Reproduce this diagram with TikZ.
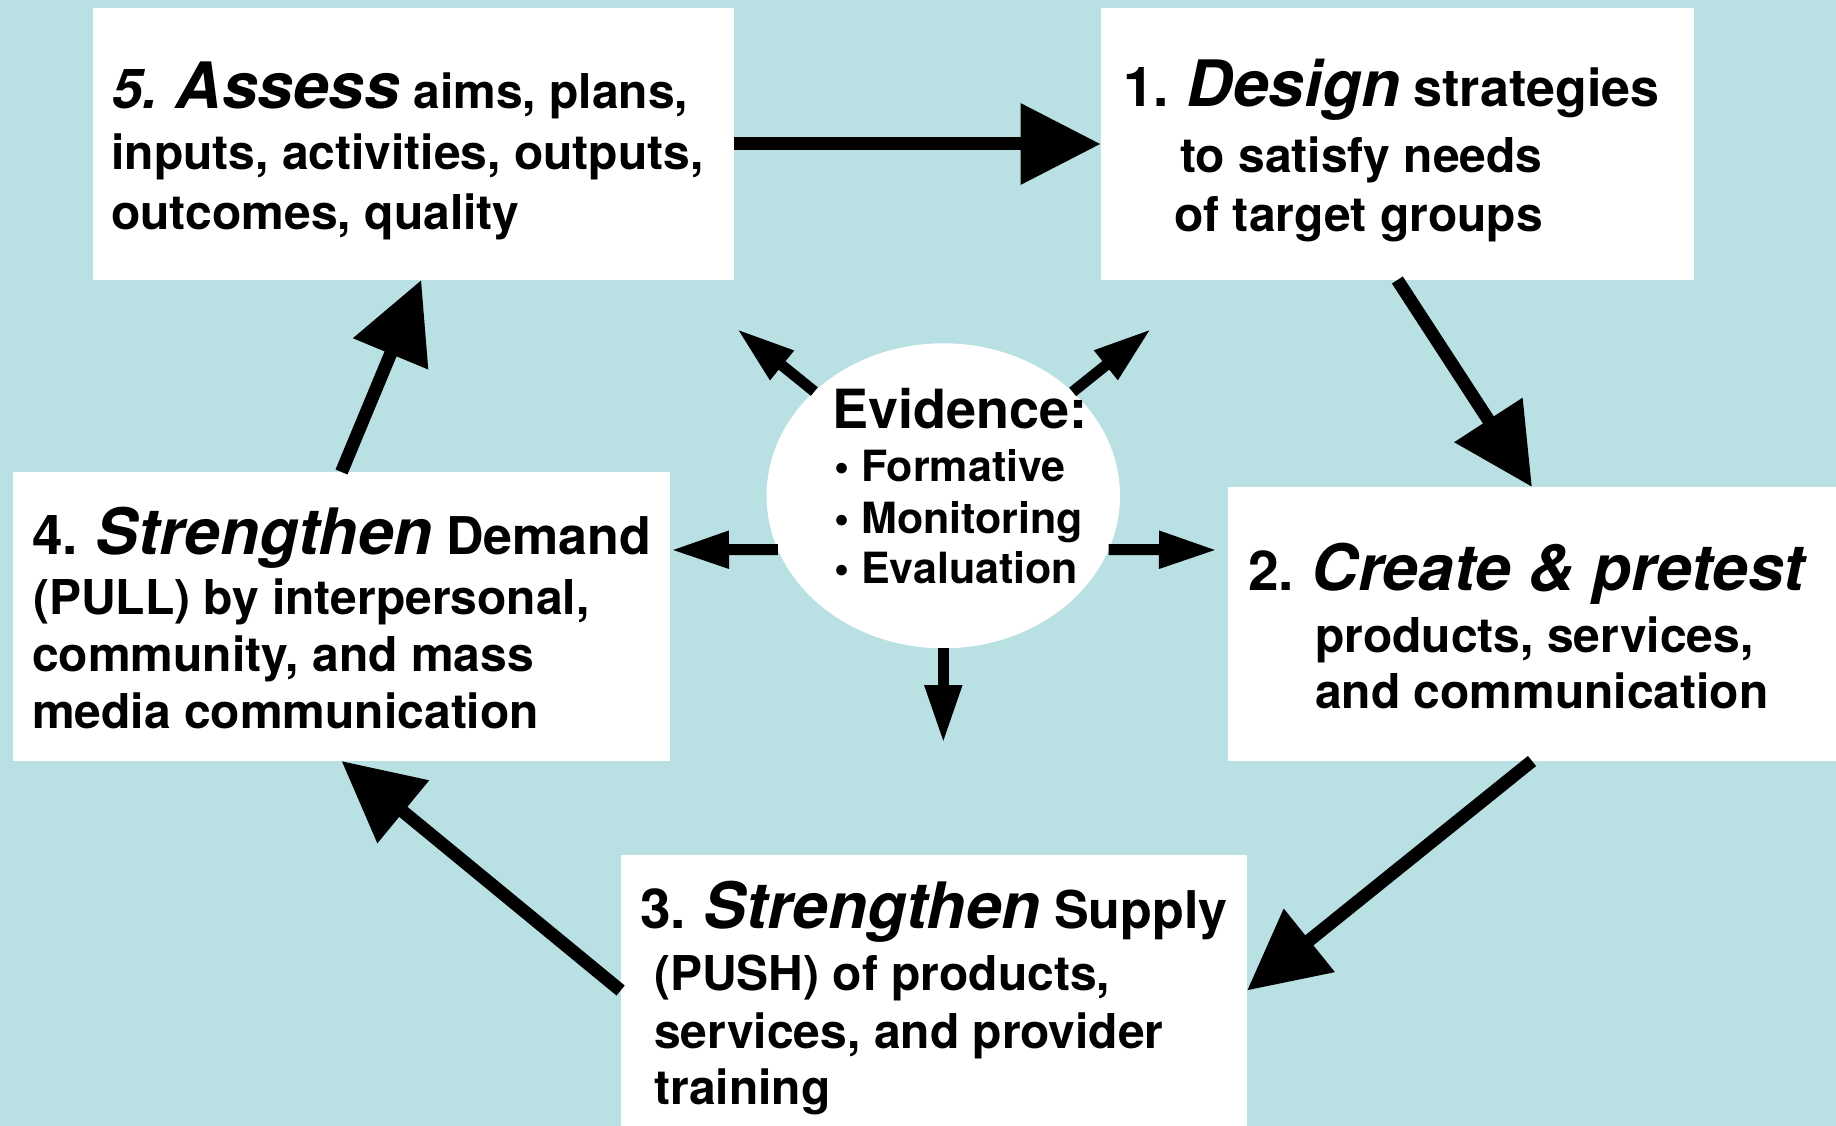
\documentclass[tikz,border=0pt]{standalone}
\usepackage{fontspec}
\setmainfont{TeX Gyre Heros}
\usetikzlibrary{arrows.meta,shapes.geometric}

\definecolor{bgblue}{RGB}{185,224,227}
\newcommand\numsz{\fontsize{55}{60}\selectfont}
\newcommand\itsz{\fontsize{64}{70}\selectfont\itshape}
\newcommand\hdsz{\fontsize{52}{60}\selectfont}

\begin{document}
\begin{tikzpicture}[x=1pt,y=-1pt,
	box/.style={fill=white,inner sep=0,outer sep=0,anchor=north west},
	txt/.style={anchor=base west,inner sep=0,font=\bfseries\fontsize{48}{58}\selectfont},
	bullet/.style={anchor=base west,inner sep=0,font=\bfseries\fontsize{43}{50}\selectfont},
	bigarrow/.style={line width=13pt,-{Triangle[length=80pt,width=78pt]}},
	smallarrow/.style={line width=11pt,-{Triangle[length=58pt,width=35pt]}}]
	% background
	\fill[bgblue] (0,0) rectangle (1836,1126);
	\useasboundingbox (0,0) rectangle (1836,1126);
	
	% BOXES
	\node[box,minimum width=641.5pt,minimum height=272pt] (n5) at (92.5,8) {}; % assess
	\node[box,minimum width=593.3pt,minimum height=272pt] (n1) at (1100.7,8) {}; % design
	\node[box,minimum width=608pt,minimum height=274pt] (n2) at (1228,487) {}; % create
	\node[box,minimum width=626.4pt,minimum height=271pt] (n3) at (620.6,855) {}; % supply
	\node[box,minimum width=657pt,minimum height=289pt] (n4) at (13,472) {}; % demand
	\node[ellipse,fill=white,inner sep=0,outer sep=0,minimum width=353.4pt,
		minimum height=305pt] (ev) at (943.3,495.8) {}; % evidence
	
	% TEXT
	\node[txt] (t51) at (112,109) {{\numsz\itshape 5.} {\itsz Assess} aims, plans,};
	\node[txt] (t52) at (111,170) {inputs, activities, outputs,};
	\node[txt] (t53) at (111,229.5) {outcomes, quality};
	
	\node[txt] (t11) at (1123,107) {{\numsz 1.} {\itsz Design} {\hdsz strategies}};
	\node[txt] (t12) at (1180,173) {to satisfy needs};
	\node[txt] (t13) at (1174,231) {of target groups};
	
	\node[txt] (t21) at (1248,590) {{\numsz 2.} {\itsz Create \& pretest}};
	\node[txt] (t22) at (1315,652) {products, services,};
	\node[txt] (t23) at (1315,708) {and communication};
	
	\node[txt] (t31) at (640,928.5) {{\numsz 3.} {\itsz Strengthen} {\hdsz Supply}};
	\node[txt] (t32) at (654,990) {(PUSH) of products,};
	\node[txt] (t33) at (654,1048.5) {services, and provider};
	\node[txt] (t34) at (654,1104) {training};
	
	\node[txt] (t41) at (32,554) {{\numsz 4.} {\itsz Strengthen} {\hdsz Demand}};
	\node[txt] (t42) at (33,614) {(PULL) by interpersonal,};
	\node[txt] (t43) at (32,671) {community, and mass};
	\node[txt] (t44) at (32,728) {media communication};
	
	\node[txt,font=\bfseries\fontsize{54}{60}\selectfont] (evh) at (832,428) {Evidence:};
	\node[bullet] (evf) at (834,481) {• Formative};
	\node[bullet] (evm) at (834,533) {• Monitoring};
	\node[bullet] (eve) at (834,583.5) {• Evaluation};
	
	% DRAW CYCLE
	\draw[bigarrow] (n5.east) -- (n1.west);
	\draw[bigarrow] (n1.south) -- (n2.north);
	\draw[bigarrow] (n2.south) -- (n3.east);
	\draw[bigarrow] (n3.west) -- (n4.south);
	\draw[bigarrow] (n4.north) -- ([xshift=8pt]n5.south);
	
	% DRAW EVIDENCE ARROWS
	\coordinate (e5) at (737,329);
	\coordinate (e1) at (1151,329);
	\coordinate (e4) at (671,550);
	\coordinate (e2) at (1217,550);
	\coordinate (e3) at (943.3,743);
	\draw[smallarrow] (ev) -- (e5);
	\draw[smallarrow] (ev) -- (e1);
	\draw[smallarrow] (ev.198) -- (e4);
	\draw[smallarrow] (ev.-18) -- (e2);
	\draw[smallarrow] (ev.south) -- (e3);
\end{tikzpicture}
\end{document}
